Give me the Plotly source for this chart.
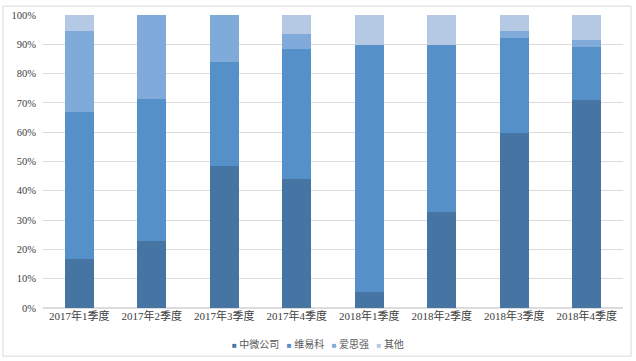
import plotly.graph_objects as go

categories = ["2017年1季度", "2017年2季度", "2017年3季度", "2017年4季度",
              "2018年1季度", "2018年2季度", "2018年3季度", "2018年4季度"]
zhongwei = [16.8, 23.0, 48.3, 44.0, 5.4, 32.6, 59.7, 71.1]
weiyike = [50.0, 48.5, 35.7, 44.3, 84.3, 57.1, 32.5, 17.9]
aisiqiang = [27.8, 28.5, 16.0, 5.2, 0.0, 0.0, 2.5, 2.4]
qita = [5.4, 0.0, 0.0, 6.5, 10.3, 10.3, 5.3, 8.6]
series_names = ["中微公司", "维易科", "爱思强", "其他"]
colors = ["#4674a3", "#5590c8", "#7faada", "#b5c9e5"]
y_ticks = [0, 10, 20, 30, 40, 50, 60, 70, 80, 90, 100]

font_family = "Liberation Serif, Noto Sans CJK SC, serif"

fig = go.Figure()
for name, vals, col in zip(series_names, [zhongwei, weiyike, aisiqiang, qita], colors):
    fig.add_trace(go.Bar(x=categories, y=vals, name=name, marker_color=col,
                         marker_line_width=0))

# compact legend (small squares close to text), built from series names/colours
legend_text = "&nbsp;&nbsp;&nbsp;".join(
    f"<span style='font-size:8px;color:{c}'>■</span>&nbsp;{n}"
    for n, c in zip(series_names, colors)
)

fig.update_layout(
    barmode="stack",
    bargap=0.6,
    width=636, height=361,
    margin=dict(l=43, r=13, t=10, b=53),
    paper_bgcolor="white",
    plot_bgcolor="white",
    font=dict(family=font_family, color="#404040", size=11),
    showlegend=False,
    xaxis=dict(showgrid=False, showline=False, ticks="", tickfont=dict(size=11)),
    yaxis=dict(range=[0, 100], tickvals=y_ticks,
               ticktext=[f"{v}%" for v in y_ticks],
               showgrid=True, gridcolor="#dcdcdc", gridwidth=1,
               zeroline=True, zerolinecolor="#dcdcdc", showline=False,
               ticks="", tickfont=dict(size=10.5), ticklabelstandoff=6),
    annotations=[dict(text=legend_text, xref="paper", yref="paper",
                      x=(318 - 43) / 580, y=(308 - 345) / 298,
                      xanchor="center", yanchor="middle", showarrow=False,
                      font=dict(size=10, color="#595959"))],
    shapes=[dict(type="rect", xref="paper", yref="paper",
                 x0=(3 - 43) / 580, x1=(631 - 43) / 580,
                 y0=(308 - 357) / 298, y1=(308 - 1) / 298,
                 line=dict(color="#d9d9d9", width=1), layer="below")],
)

fig.write_html("out.html")
